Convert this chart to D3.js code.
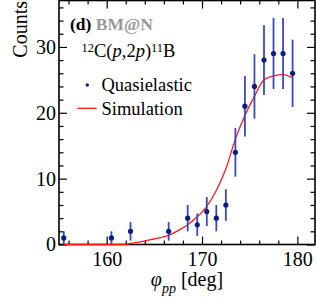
<!DOCTYPE html>
<html>
<head>
<meta charset="utf-8">
<script src="https://cdn.jsdelivr.net/npm/d3@7"></script>
<style>
  body { margin: 0; background: #fff; }
  text { font-family: "Liberation Serif", "Times New Roman", serif; }
</style>
</head>
<body>
<div id="chart"></div>
<script>
// measured points (bin centres, counts, stat. errors)
const phiData = [155.5, 160.5, 162.5, 166.5, 168.5, 169.5, 170.5, 171.5, 172.5, 173.5, 174.5, 175.5, 176.5, 177.5, 178.5, 179.5];
const countsData = [1, 1, 2, 2, 4, 3, 5, 4, 6, 14, 21, 24, 28, 29, 29, 26];
const errData = [1, 1, 1.4, 1.4, 2, 1.7, 2.2, 2, 2.4, 3.7, 4.6, 4.9, 5.3, 5.4, 5.4, 5.1];

// simulation curve
const simPhi = [155.5, 156.5, 157.5, 158.5, 159.5, 160.5, 161.5, 162.5, 163.5, 164.5, 165.5, 166.5, 167.5, 168.5, 169.5, 170.5, 171.5, 172.5, 173.5, 174.5, 175.5, 176.5, 177.5, 178.5, 179.5];
const simCounts = [0, 0, 0, 0, 0, 0, 0, 0.15, 0.4, 0.7, 1.0, 1.4, 2.1, 3.0, 4.2, 5.8, 8.2, 11.5, 16.0, 19.6, 22.5, 25.0, 25.6, 25.8, 25.3];

const xMajor = [160, 170, 180];
const xMinor = [156, 158, 162, 164, 166, 168, 172, 174, 176, 178, 182];
const yMajor = [0, 10, 20, 30];
const yMinor = [2, 4, 6, 8, 12, 14, 16, 18, 22, 24, 26, 28, 32, 34, 36];

const W = 316, H = 305;
const margin = { top: 0.5, right: 1, bottom: 60.5, left: 59 };
const width = W - margin.left - margin.right;
const height = H - margin.top - margin.bottom;

const svg = d3.select("#chart").append("svg")
  .attr("width", W)
  .attr("height", H);
const g = svg.append("g")
  .attr("transform", "translate(" + margin.left + "," + margin.top + ")");

const x = d3.scaleLinear().domain([155, 181.85]).range([0, width]);
const y = d3.scaleLinear().domain([0, 37.05]).range([height, 0]);

function styleAxis(sel) {
  sel.select(".domain").remove();
  sel.selectAll("line").attr("stroke", "#000").attr("stroke-width", 1.2);
  sel.selectAll("text").attr("fill", "#000").style("font-size", "20px")
    .style("font-family", "'Liberation Serif', 'Times New Roman', serif");
}

// bottom
g.append("g").attr("transform", "translate(0," + height + ")")
  .call(d3.axisBottom(x).tickValues(xMajor).tickSizeInner(-8).tickSizeOuter(0).tickPadding(7).tickFormat(d3.format("d")))
  .call(styleAxis);
g.append("g").attr("transform", "translate(0," + height + ")")
  .call(d3.axisBottom(x).tickValues(xMinor).tickSizeInner(-4).tickSizeOuter(0).tickFormat(""))
  .call(styleAxis);
// top
g.append("g")
  .call(d3.axisTop(x).tickValues(xMajor).tickSizeInner(-8).tickSizeOuter(0).tickFormat(""))
  .call(styleAxis);
g.append("g")
  .call(d3.axisTop(x).tickValues(xMinor).tickSizeInner(-4).tickSizeOuter(0).tickFormat(""))
  .call(styleAxis);
// left
g.append("g")
  .call(d3.axisLeft(y).tickValues(yMajor).tickSizeInner(-8).tickSizeOuter(0).tickPadding(3))
  .call(styleAxis);
g.append("g")
  .call(d3.axisLeft(y).tickValues(yMinor).tickSizeInner(-4.5).tickSizeOuter(0).tickFormat(""))
  .call(styleAxis);
// right
g.append("g").attr("transform", "translate(" + width + ",0)")
  .call(d3.axisRight(y).tickValues(yMajor).tickSizeInner(-8).tickSizeOuter(0).tickFormat(""))
  .call(styleAxis);
g.append("g").attr("transform", "translate(" + width + ",0)")
  .call(d3.axisRight(y).tickValues(yMinor).tickSizeInner(-4.5).tickSizeOuter(0).tickFormat(""))
  .call(styleAxis);

// frame
g.append("rect")
  .attr("x", 0).attr("y", 0)
  .attr("width", width).attr("height", height)
  .attr("fill", "none").attr("stroke", "#000").attr("stroke-width", 1.6);

// simulation
const simPts = simPhi.map((p, i) => [p, simCounts[i]]);
const line = d3.line()
  .x(d => x(d[0]))
  .y(d => y(d[1]))
  .curve(d3.curveMonotoneX);
g.append("path")
  .attr("d", line(simPts))
  .attr("fill", "none")
  .attr("stroke", "#ff1a1a")
  .attr("stroke-width", 1.3);

// data points with error bars
const pts = phiData.map((p, i) => ({ phi: p, n: countsData[i], e: errData[i] }));
g.selectAll(".err").data(pts).enter().append("line")
  .attr("x1", d => x(d.phi)).attr("x2", d => x(d.phi))
  .attr("y1", d => y(Math.max(0, d.n - d.e))).attr("y2", d => y(d.n + d.e))
  .attr("stroke", "#3848c0").attr("stroke-width", 1.8);
g.selectAll(".pt").data(pts).enter().append("circle")
  .attr("cx", d => x(d.phi)).attr("cy", d => y(d.n))
  .attr("r", 2.6)
  .attr("fill", "#0d1a85");

// labels
const tag = svg.append("text").attr("x", 70).attr("y", 29.5)
  .style("font-size", "17.5px").style("font-weight", "bold");
tag.append("tspan").attr("fill", "#000").text("(d) ");
tag.append("tspan").attr("fill", "#999").text("BM@N");

const react = svg.append("text").attr("x", 81.5).attr("y", 57).style("font-size", "18.5px").attr("fill", "#000");
react.append("tspan").style("font-size", "12.5px").attr("dy", -5).text("12");
react.append("tspan").attr("dy", 5).text("C(");
react.append("tspan").style("font-style", "italic").text("p");
react.append("tspan").text(",2");
react.append("tspan").style("font-style", "italic").text("p");
react.append("tspan").text(")");
react.append("tspan").style("font-size", "12.5px").attr("dy", -5).text("11");
react.append("tspan").attr("dy", 5).text("B");

// legend
svg.append("circle").attr("cx", 87.3).attr("cy", 85).attr("r", 1.7).attr("fill", "#0d1a85");
svg.append("text").attr("x", 101.5).attr("y", 91).style("font-size", "18.5px").text("Quasielastic");
svg.append("line").attr("x1", 77.3).attr("x2", 96.7).attr("y1", 108.3).attr("y2", 108.3)
  .attr("stroke", "#ff1a1a").attr("stroke-width", 1.3);
svg.append("text").attr("x", 101.5).attr("y", 114.5).style("font-size", "18.5px").text("Simulation");

// axis titles
svg.append("text")
  .attr("transform", "translate(26.5,1) rotate(-90)")
  .attr("text-anchor", "end")
  .style("font-size", "20px")
  .text("Counts");

const xt = svg.append("text").attr("x", margin.left + width / 2).attr("y", 286)
  .attr("text-anchor", "middle").style("font-size", "20px");
xt.append("tspan").style("font-style", "italic").text("\u03C6");
xt.append("tspan").style("font-style", "italic").style("font-size", "14px").attr("dy", 6.5).text("pp");
xt.append("tspan").attr("dy", -6.5).text(" [deg]");
</script>
</body>
</html>
